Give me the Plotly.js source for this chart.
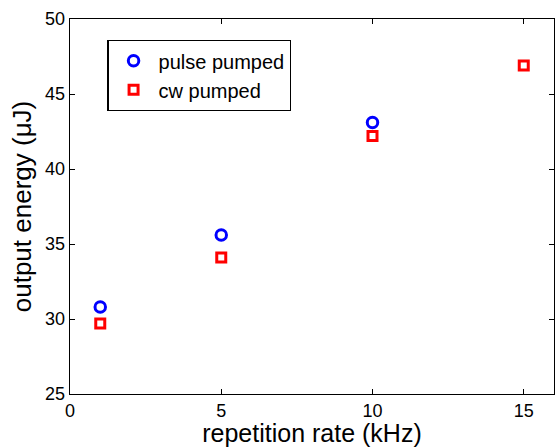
<!DOCTYPE html>
<html>
<head>
<meta charset="utf-8">
<script src="https://cdn.plot.ly/plotly-3.0.1.min.js"></script>
<style>
  html, body { margin: 0; padding: 0; background: #fff; }
  #chart { width: 555px; height: 447px; }
</style>
</head>
<body>
<div id="chart"></div>
<script>
// Output energy versus repetition rate for two pumping schemes
const pulseRate = [1, 5, 10];
const pulseEnergy = [30.8, 35.6, 43.1];
const cwRate = [1, 5, 10, 15];
const cwEnergy = [29.7, 34.1, 42.2, 46.9];
const xTicks = [0, 5, 10, 15];
const yTicks = [25, 30, 35, 40, 45, 50];

const FONT = 'Arial, "Liberation Sans", sans-serif';

const traces = [
  {
    x: pulseRate, y: pulseEnergy, name: 'pulse pumped',
    type: 'scatter', mode: 'markers',
    marker: { symbol: 'circle-open', size: 10.5, color: '#0000ff', line: { width: 3, color: '#0000ff' } }
  },
  {
    x: cwRate, y: cwEnergy, name: 'cw pumped',
    type: 'scatter', mode: 'markers',
    marker: { symbol: 'square-open', size: 9, color: '#ff0000', line: { width: 3, color: '#ff0000' } }
  }
];

const axisCommon = {
  showline: true, linecolor: '#000', linewidth: 1.3,
  mirror: 'allticks', ticks: 'inside', ticklen: 5, tickcolor: '#000',
  showgrid: false, zeroline: false,
  tickfont: { family: FONT, size: 18, color: '#000' }
};

const layout = {
  width: 555, height: 447,
  margin: { l: 70, r: 1, t: 19, b: 53 },
  paper_bgcolor: '#fff', plot_bgcolor: '#fff',
  showlegend: true,
  legend: {
    x: 0.077, y: 0.944, xanchor: 'left', yanchor: 'top',
    bgcolor: '#fff', bordercolor: '#000', borderwidth: 1.3,
    itemwidth: 40,
    font: { family: FONT, size: 20, color: '#000' }
  },
  xaxis: Object.assign({}, axisCommon, {
    range: [0, 16], tickvals: xTicks, ticktext: xTicks.map(String),
    title: { text: 'repetition rate (kHz)', standoff: 5,
      font: { family: FONT, size: 25, color: '#000' } }
  }),
  yaxis: Object.assign({}, axisCommon, {
    range: [25, 50], tickvals: yTicks, ticktext: yTicks.map(String),
    title: { text: 'output energy (\u03bcJ)', standoff: 6,
      font: { family: FONT, size: 26, color: '#000' } }
  })
};

Plotly.newPlot('chart', traces, layout, { displayModeBar: false, staticPlot: true });
</script>
</body>
</html>
